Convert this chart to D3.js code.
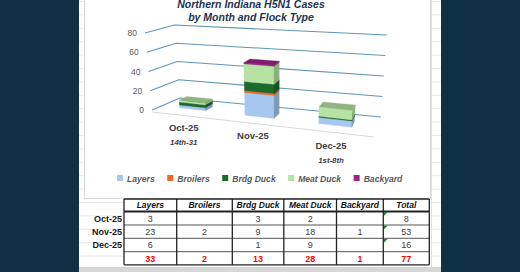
<!DOCTYPE html>
<html>
<head>
<meta charset="utf-8">
<script src="https://cdn.jsdelivr.net/npm/d3@7"></script>
<style>
body{margin:0;background:#0e2f44;}
svg{display:block;}
text{font-family:"Liberation Sans",Arial,sans-serif;}
</style>
</head>
<body>
<svg id="chart" width="520" height="272"></svg>
<script>
var months = ["Oct-25","Nov-25","Dec-25"];
var monthNotes = ["14th-31","","1st-8th"];
var flockTypes = ["Layers","Broilers","Brdg Duck","Meat Duck","Backyard"];
var layers = [3,23,6];
var broilers = [0,2,0];
var brdgDuck = [3,9,1];
var meatDuck = [2,18,9];
var backyard = [0,1,0];
var rowTotals = [8,53,16];
var colTotals = [33,2,13,28,1,77];
var yTicks = [0,20,40,60,80];
var colors = ["#a6c8ee","#ee6a2a","#1b6b2b","#b6e3a4","#a0228f"];

var series = [layers,broilers,brdgDuck,meatDuck,backyard];
var rows = months.map(function(m,i){
    var r = {month:m};
    flockTypes.forEach(function(k,j){ r[k] = series[j][i]; });
    return r;
});

var svg = d3.select("#chart");

// page and spreadsheet background
svg.append("rect").attr("x",79).attr("y",0).attr("width",362).attr("height",272).attr("fill","#fff");
var bgRows = d3.range(1.5,268,13.4);
svg.append("g").selectAll("line").data(bgRows).join("line")
    .attr("x1",79).attr("x2",441).attr("y1",function(d){return d;}).attr("y2",function(d){return d;})
    .attr("stroke","#e8e8e8").attr("stroke-width",1);
svg.append("line").attr("x1",431.5).attr("x2",431.5).attr("y1",0).attr("y2",268)
    .attr("stroke","#e0e0e0");
svg.append("rect").attr("x",79).attr("y",267).attr("width",362).attr("height",5).attr("fill","#d6d6d6");

// chart area
svg.append("rect").attr("x",84.5).attr("y",-1).attr("width",346).attr("height",199.5)
    .attr("fill","#fff").attr("stroke","#d9d9d9");

// title
var title = svg.append("text").attr("text-anchor","middle")
    .attr("font-weight","bold").attr("font-style","italic")
    .attr("font-size","10.5px").attr("fill","#1b3350");
title.append("tspan").attr("x",251).attr("y",7.5).text("Northern Indiana H5N1 Cases");
title.append("tspan").attr("x",251).attr("y",20.5).text("by Month and Flock Type");

// simple 3d projection: floor corners [x, y, wall height in px]
var corner = {fl:[152,110,77], fr:[374,137,86], bl:[180,98,73], br:[381,117,82]};
function lerp(a,b,t){return a+(b-a)*t;}
function warp(t){return t/(t+1.2*(1-t));}
var project = function(u,z,frac){
    var w = warp(u);
    var fx = lerp(corner.fl[0],corner.fr[0],w), fy = lerp(corner.fl[1],corner.fr[1],w), fh = lerp(corner.fl[2],corner.fr[2],w);
    var bx = lerp(corner.bl[0],corner.br[0],w), by = lerp(corner.bl[1],corner.br[1],w), bh = lerp(corner.bl[2],corner.br[2],w);
    var gx = lerp(fx,bx,z), gy = lerp(fy,by,z), h = lerp(fh,bh,z);
    return [gx + (gx-278)*frac*0.056, gy - frac*h];
};

var xScale = d3.scaleBand().domain(months).range([0,1]).paddingInner(0.59).paddingOuter(0.295);
var yScale = d3.scaleLinear().domain([0,80]).range([0,1]);
var zFront = 0.35, zBack = 0.65;

// gridlines on side wall and back wall
var grid = svg.append("g");
grid.selectAll("polyline").data(yTicks).join("polyline")
    .attr("points",function(d){
        var f = yScale(d);
        return [project(0,0,f),project(0,1,f),project(1,1,f)].map(function(p){return p.join(",");}).join(" ");
    })
    .attr("fill","none").attr("stroke","#5d97b5").attr("stroke-width",1.1);
grid.selectAll("text").data(yTicks).join("text")
    .attr("x",function(d){return project(0,0,yScale(d))[0]-8;})
    .attr("y",function(d){return project(0,0,yScale(d))[1]+3;})
    .attr("text-anchor","end").attr("font-size","8.5px").attr("fill","#595959")
    .text(function(d){return d;});

// floor front edge
svg.append("line")
    .attr("x1",project(0,0,0)[0]).attr("y1",project(0,0,0)[1]+2)
    .attr("x2",project(1,0,0)[0]).attr("y2",project(1,0,0)[1])
    .attr("stroke","#d9d9d9").attr("stroke-width",1);

// stacked 3d bars
var stacked = d3.stack().keys(flockTypes)(rows);
var poly = function(pts){return pts.map(function(p){return p.join(",");}).join(" ");};
var bars = svg.append("g");
stacked.forEach(function(s,i){
    var c = colors[i];
    s.forEach(function(d){
        if (d[1]-d[0] <= 0) return;
        var u0 = xScale(d.data.month), u1 = u0 + xScale.bandwidth();
        var f0 = yScale(d[0]), f1 = yScale(d[1]);
        var g = bars.append("g");
        g.append("polygon")
            .attr("points",poly([project(u0,zFront,f0),project(u1,zFront,f0),project(u1,zFront,f1),project(u0,zFront,f1)]))
            .attr("fill",c).attr("stroke",c).attr("stroke-width",0.3);
        var side = d3.color(c).darker(0.75).toString();
        g.append("polygon")
            .attr("points",poly([project(u1,zFront,f0),project(u1,zBack,f0),project(u1,zBack,f1),project(u1,zFront,f1)]))
            .attr("fill",side).attr("stroke",side).attr("stroke-width",0.3);
        var top = d3.color(c).darker(0.65).toString();
        g.append("polygon")
            .attr("points",poly([project(u0,zFront,f1),project(u1,zFront,f1),project(u1,zBack,f1),project(u0,zBack,f1)]))
            .attr("fill",top).attr("stroke",top).attr("stroke-width",0.3);
    });
});

// category labels
var cats = svg.append("g");
months.forEach(function(m,i){
    var p = project(xScale(m)+xScale.bandwidth()/2,0,0);
    cats.append("text").attr("x",p[0]).attr("y",p[1]+17).attr("text-anchor","middle")
        .attr("font-weight","bold").attr("font-size","9.5px").attr("fill","#404040").text(m);
    cats.append("text").attr("x",p[0]).attr("y",p[1]+31).attr("text-anchor","middle")
        .attr("font-style","italic").attr("font-weight","bold").attr("font-size","7.8px").attr("fill","#404040").text(monthNotes[i]);
});

// legend
var legend = svg.append("g");
var lx = 117;
flockTypes.forEach(function(k,i){
    legend.append("rect").attr("x",lx).attr("y",175).attr("width",6).attr("height",6).attr("fill",colors[i]);
    var t = legend.append("text").attr("x",lx+10).attr("y",181.5)
        .attr("font-style","italic").attr("font-weight","bold").attr("font-size","8.6px")
        .attr("fill","#595959").text(k);
    lx = lx + 10 + t.node().getComputedTextLength() + 12.5;
});

// table
var colEdges = [124,176.7,232.3,283.8,336.5,383.3,429.3];
var rowEdges = [199,211.5,225,238.3,251.7,264.8];
var headers = flockTypes.concat(["Total"]);
var table = svg.append("g");

table.append("rect").attr("x",colEdges[0]).attr("y",rowEdges[0])
    .attr("width",colEdges[6]-colEdges[0]).attr("height",rowEdges[5]-rowEdges[0])
    .attr("fill","#fff");
rowEdges.forEach(function(y,i){
    table.append("line").attr("x1",colEdges[0]).attr("x2",colEdges[6]).attr("y1",y).attr("y2",y)
        .attr("stroke",(i==0||i==1||i==5)?"#222":"#555").attr("stroke-width",i==1?1.8:(i==0||i==5?1.3:1));
});
colEdges.forEach(function(x){
    table.append("line").attr("x1",x).attr("x2",x).attr("y1",rowEdges[0]).attr("y2",rowEdges[5])
        .attr("stroke","#222").attr("stroke-width",1.3);
});
var colMid = function(j){return (colEdges[j]+colEdges[j+1])/2;};
var rowMid = function(i){return (rowEdges[i]+rowEdges[i+1])/2;};
headers.forEach(function(h,j){
    table.append("text").attr("x",colMid(j)).attr("y",rowMid(0)+3).attr("text-anchor","middle")
        .attr("font-weight","bold").attr("font-style","italic").attr("font-size","8.5px").attr("fill","#111").text(h);
});
months.forEach(function(m,i){
    table.append("text").attr("x",122).attr("y",rowMid(i+1)+3.3).attr("text-anchor","end")
        .attr("font-weight","bold").attr("font-size","9px").attr("fill","#1a1a1a").text(m);
    series.forEach(function(s,j){
        if (!s[i]) return;
        table.append("text").attr("x",colMid(j)).attr("y",rowMid(i+1)+3.3).attr("text-anchor","middle")
            .attr("font-size","9px").attr("fill","#404040").text(s[i]);
    });
    table.append("text").attr("x",colMid(5)).attr("y",rowMid(i+1)+3.3).attr("text-anchor","middle")
        .attr("font-size","9px").attr("fill","#404040").text(rowTotals[i]);
    var tx = colEdges[5]+0.7, ty = rowEdges[i+1]+0.7;
    table.append("path").attr("d","M"+tx+","+ty+"h3.5l-3.5,3.5z").attr("fill","#1e7b2e");
});
colTotals.forEach(function(v,j){
    table.append("text").attr("x",colMid(j)).attr("y",rowMid(4)+3.3).attr("text-anchor","middle")
        .attr("font-weight","bold").attr("font-size","9px").attr("fill","#ff0000").text(v);
});
</script>
</body>
</html>
